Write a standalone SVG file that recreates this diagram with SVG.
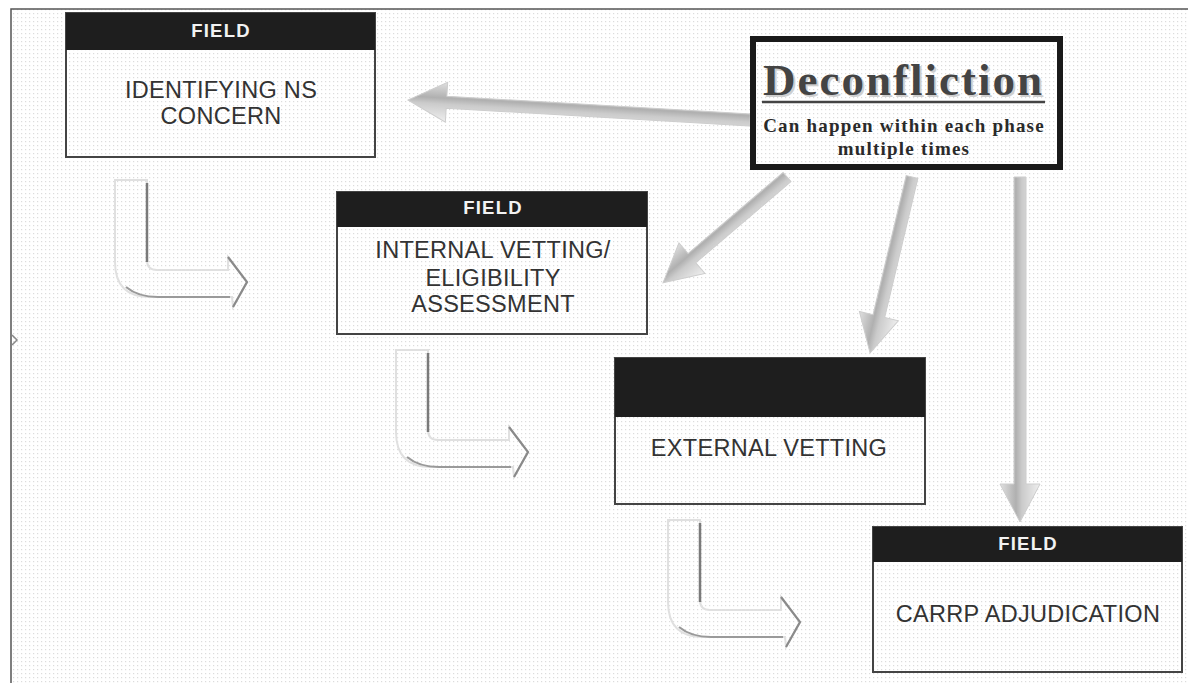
<svg xmlns="http://www.w3.org/2000/svg" width="1188" height="683" viewBox="0 0 1188 683">
  <defs>
    <pattern id="dots" width="4" height="4" patternUnits="userSpaceOnUse">
      <rect width="4" height="4" fill="#ffffff"/>
      <rect x="1" y="1" width="1.2" height="1.2" fill="#dcdcdc"/>
    </pattern>
    <linearGradient id="shade" x1="0" y1="0" x2="0" y2="1">
      <stop offset="0" stop-color="#efefef"/>
      <stop offset="0.45" stop-color="#cbcbcb"/>
      <stop offset="0.6" stop-color="#b0b0b0"/>
      <stop offset="1" stop-color="#e0e0e0"/>
    </linearGradient>
    <g id="bent">
      <path d="M115,180 L147,180 L147,260 Q147,270 157,270 L228,270 L228,257 L247,282 L233,307 L232,297 L150,297 Q115,297 115,262 Z" fill="none" stroke="#e0e0e0" stroke-width="2"/>
      <path d="M147,183 L147,262" fill="none" stroke="#7a7a7a" stroke-width="2.5"/>
      <path d="M126,287 Q138,297 158,297 L230,297" fill="none" stroke="#9a9a9a" stroke-width="2.2"/>
      <path d="M228,257 L247,282 L233,307" fill="none" stroke="#8a8a8a" stroke-width="2.2"/>
    </g>
    <style>
      .box { fill: url(#dots); stroke: #444; stroke-width: 2; }
      .hdr { fill: #1e1e1e; }
      .hdrtxt { font-family: "Liberation Sans", Arial, sans-serif; font-weight: bold; font-size: 18.5px; fill: #f2f2f2; letter-spacing: 1.2px; text-anchor: middle; }
      .body { font-family: "Liberation Sans", Arial, sans-serif; font-size: 23.5px; fill: #333; letter-spacing: 0.3px; text-anchor: middle; }
      .garrow { fill: url(#shade); stroke: #cdcdcd; stroke-width: 1; }
      .serif { font-family: "Liberation Serif", "Times New Roman", serif; font-weight: bold; }
    </style>
  </defs>

  <rect width="1188" height="683" fill="#ffffff"/>
  <rect x="11" y="9" width="1177" height="674" fill="url(#dots)"/>
  <path d="M11,683 L11,9 L1188,9" fill="none" stroke="#555" stroke-width="1.5"/>
  <polyline points="12,335 17,340 12,345" fill="none" stroke="#888" stroke-width="1.5"/>

  <g id="connectors">
    <g transform="translate(750,120) rotate(183.35)">
      <polygon class="garrow" points="0,-6 304,-6 304,-20 342.6,0 304,20 304,6 0,6"/>
    </g>
    <g transform="translate(787,177) rotate(139.5)">
      <polygon class="garrow" points="0,-6 125,-6 125,-20 163,0 125,20 125,6 0,6"/>
    </g>
    <g transform="translate(912,177) rotate(103.4)">
      <polygon class="garrow" points="0,-6 143,-6 143,-20 181,0 143,20 143,6 0,6"/>
    </g>
    <g transform="translate(1020,177) rotate(90)">
      <polygon class="garrow" points="0,-6 307,-6 307,-20 345,0 307,20 307,6 0,6"/>
    </g>
    <use href="#bent"/>
    <use href="#bent" transform="translate(281,170)"/>
    <use href="#bent" transform="translate(553,340)"/>
  </g>

  <g id="node-identifying">
    <rect class="box" x="66" y="13" width="309" height="144"/>
    <rect class="hdr" x="66" y="13" width="309" height="37"/>
    <text class="hdrtxt" x="221" y="37">FIELD</text>
    <text class="body" x="221" y="98">IDENTIFYING NS</text>
    <text class="body" x="221" y="124">CONCERN</text>
  </g>

  <g id="node-internal">
    <rect class="box" x="337" y="192" width="310" height="142"/>
    <rect class="hdr" x="337" y="192" width="310" height="35"/>
    <text class="hdrtxt" x="493" y="214">FIELD</text>
    <text class="body" x="493" y="258">INTERNAL VETTING/</text>
    <text class="body" x="493" y="286">ELIGIBILITY</text>
    <text class="body" x="493" y="312">ASSESSMENT</text>
  </g>

  <g id="node-external">
    <rect class="box" x="615" y="358" width="310" height="146"/>
    <rect class="hdr" x="615" y="358" width="310" height="59"/>
    <text class="body" x="769" y="456">EXTERNAL VETTING</text>
  </g>

  <g id="node-carrp">
    <rect class="box" x="873" y="527" width="309" height="145"/>
    <rect class="hdr" x="873" y="527" width="309" height="35"/>
    <text class="hdrtxt" x="1028" y="550">FIELD</text>
    <text class="body" x="1028" y="622">CARRP ADJUDICATION</text>
  </g>

  <g id="node-deconfliction">
    <rect x="753" y="39" width="307" height="128" fill="url(#dots)" stroke="#1a1a1a" stroke-width="6"/>
    <text class="serif" x="765" y="97" font-size="45" letter-spacing="2" fill="#cfcfcf">Deconfliction</text>
    <text class="serif" x="763" y="95" font-size="45" letter-spacing="2" fill="#444">Deconfliction</text>
    <line x1="762" y1="102" x2="1045" y2="102" stroke="#444" stroke-width="2.5"/>
    <text class="serif" x="904" y="132" font-size="19" letter-spacing="1.2" fill="#2a2a2a" text-anchor="middle">Can happen within each phase</text>
    <text class="serif" x="904" y="155" font-size="19" letter-spacing="1.2" fill="#2a2a2a" text-anchor="middle">multiple times</text>
  </g>
</svg>
